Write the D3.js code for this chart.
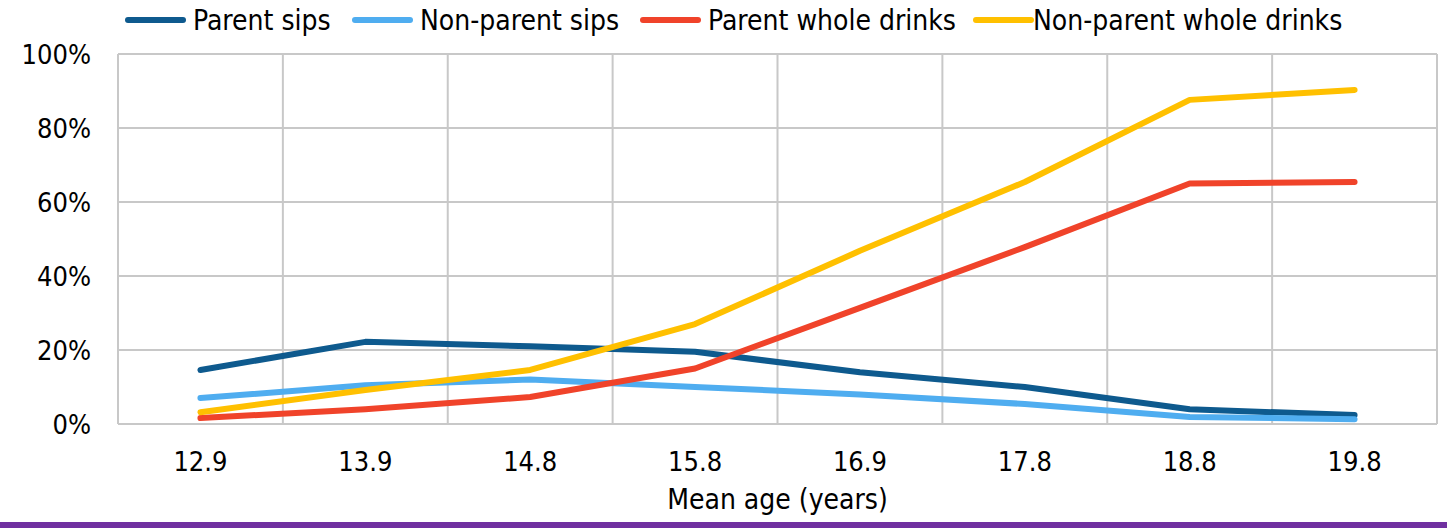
<!DOCTYPE html>
<html>
<head>
<meta charset="utf-8">
<script src="https://d3js.org/d3.v7.min.js"></script>
<style>
  body { margin: 0; background: #fff; }
  text { font-family: "Liberation Sans Narrow", "DejaVu Sans Condensed", "Liberation Sans", sans-serif; fill: #000; }
</style>
</head>
<body>
<script>
    // data
    var ages = ['12.9', '13.9', '14.8', '15.8', '16.9', '17.8', '18.8', '19.8']
    var parentSips = [14.6, 22.2, 21.0, 19.5, 14.0, 10.0, 4.0, 2.4]
    var nonParentSips = [7.0, 10.5, 12.0, 10.0, 8.0, 5.4, 1.9, 1.3]
    var parentWhole = [1.6, 4.0, 7.3, 15.0, 31.4, 47.8, 65.0, 65.4]
    var nonParentWhole = [3.2, 9.2, 14.6, 27.0, 46.8, 65.4, 87.6, 90.3]
    var seriesNames = ['Parent sips', 'Non-parent sips', 'Parent whole drinks', 'Non-parent whole drinks']
    var yTicks = [0, 20, 40, 60, 80, 100]

    var series = [parentSips, nonParentSips, parentWhole, nonParentWhole]
    var colors = ['#0E5A8E', '#4FADF0', '#F0432A', '#FFC000']

    var width = 1447, height = 528
    var plotL = 118, plotR = 1437, plotT = 54, plotB = 424

    var svg = d3.select('body').append('svg').attr('width', width).attr('height', height)

    var x = d3.scaleBand().domain(ages).range([plotL, plotR])
    var y = d3.scaleLinear().domain([0, 100]).range([plotB, plotT])

    // gridlines
    var grid = svg.append('g').attr('stroke', '#C8C8C8').attr('stroke-width', 2)
    grid.selectAll('.h').data(yTicks).enter().append('line')
        .attr('x1', plotL).attr('x2', plotR)
        .attr('y1', function(d){return y(d)}).attr('y2', function(d){return y(d)})
    var vx = ages.map(function(a){return x(a)}).concat([plotR])
    grid.selectAll('.v').data(vx).enter().append('line')
        .attr('x1', function(d){return d}).attr('x2', function(d){return d})
        .attr('y1', plotT).attr('y2', plotB)

    // y axis labels
    var yAxis = svg.append('g').attr('transform', `translate(${plotL - 27},0)`)
        .call(d3.axisLeft(y).tickValues(yTicks).tickSize(0).tickPadding(0).tickFormat(function(d){return d + '%'}))
    yAxis.select('.domain').remove()
    yAxis.selectAll('text').style('font-size', '27px').attr('dy', '0.35em')

    // x axis labels
    var xAxis = svg.append('g').attr('transform', `translate(0,${plotB + 28})`)
        .call(d3.axisBottom(x).tickSize(0).tickPadding(0))
    xAxis.select('.domain').remove()
    xAxis.selectAll('text').style('font-size', '27px').attr('dy', '0.71em')

    svg.append('text').attr('x', (plotL + plotR) / 2).attr('y', 509)
        .attr('text-anchor', 'middle').style('font-size', '28px').text('Mean age (years)')

    // lines
    var line = d3.line()
        .x(function(d, i){return x(ages[i]) + x.bandwidth() / 2})
        .y(function(d){return y(d)})
    svg.selectAll('.series').data(series).enter().append('path')
        .attr('d', line)
        .attr('fill', 'none')
        .attr('stroke', function(d, i){return colors[i]})
        .attr('stroke-width', 6)
        .attr('stroke-linecap', 'round')
        .attr('stroke-linejoin', 'round')

    // legend
    var legendX = [128, 355, 643, 976]
    var leg = svg.selectAll('.leg').data(seriesNames).enter().append('g')
        .attr('transform', function(d, i){return `translate(${legendX[i]},20)`})
    leg.append('line').attr('x1', 0).attr('x2', 55).attr('y1', 0).attr('y2', 0)
        .attr('stroke', function(d, i){return colors[i]}).attr('stroke-width', 6).attr('stroke-linecap', 'round')
    leg.append('text').attr('x', function(d, i){return i == 3 ? 57 : 65}).attr('y', 0).attr('dy', '0.35em')
        .style('font-size', '28px').text(function(d){return d})

    // purple bar along the bottom
    svg.append('rect').attr('x', 0).attr('y', 522).attr('width', width).attr('height', 6).attr('fill', '#7030A0')
</script>
</body>
</html>
